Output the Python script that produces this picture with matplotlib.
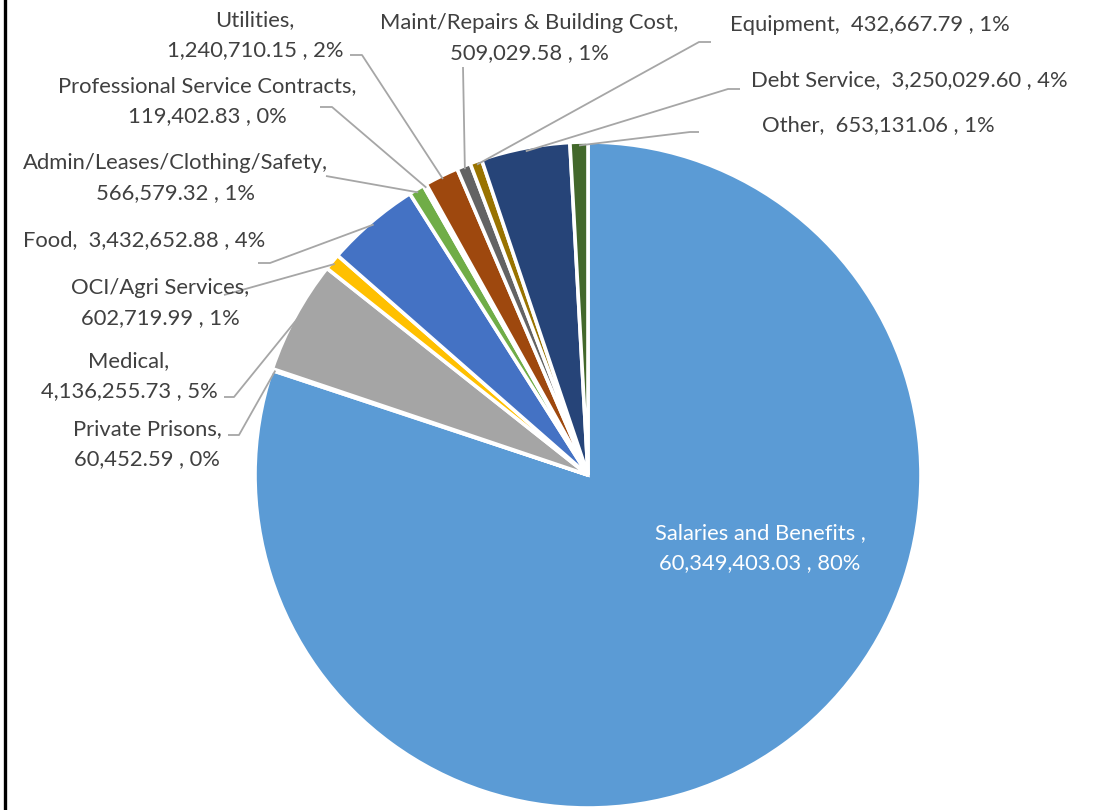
import numpy as np
import matplotlib.pyplot as plt

plt.rcParams['font.family'] = ['Lato', 'DejaVu Sans']

categories = ['Salaries and Benefits', 'Private Prisons', 'Medical', 'OCI/Agri Services',
              'Food', 'Admin/Leases/Clothing/Safety', 'Professional Service Contracts',
              'Utilities', 'Maint/Repairs & Building Cost', 'Equipment', 'Debt Service', 'Other']
amounts = [60349403.03, 60452.59, 4136255.73, 602719.99,
           3432652.88, 566579.32, 119402.83,
           1240710.15, 509029.58, 432667.79, 3250029.60, 653131.06]
pct_labels = ['80%', '0%', '5%', '1%', '4%', '1%', '0%', '2%', '1%', '1%', '4%', '1%']

colors = ['#5B9BD5', '#ED7D31', '#A5A5A5', '#FFC000', '#4472C4', '#70AD47',
          '#255E91', '#9E480E', '#636363', '#997300', '#264478', '#43682B']

W, H = 1115, 810
CX, CY, R = 588, 475, 333          # pie centre / radius in pixels


def px(x, y):
    # pixel position (from top-left) -> data units, pie radius = 1
    return (x - CX) / R, (CY - y) / R


# label layout: (lines, centre x, first-line y, leader start points in px)
layout = {
    'Salaries and Benefits': ('in', 760, 533, None),
    'Private Prisons': (2, 147, 429, [(228, 435), (239, 435)]),
    'Medical': (2, 129, 361, [(224, 397), (234, 397)]),
    'OCI/Agri Services': (2, 160, 288, [(224, 295)]),
    'Food': (1, 144, 240, [(258, 263), (270, 263)]),
    'Admin/Leases/Clothing/Safety': (2, 175, 163, [(326, 176)]),
    'Professional Service Contracts': (2, 207, 86, [(320, 107), (332, 107)]),
    'Utilities': (2, 255, 20, [(350, 55), (362, 55)]),
    'Maint/Repairs & Building Cost': (2, 529, 23, [(463, 67)]),
    'Equipment': (1, 870, 25, [(711, 42), (699, 42)]),
    'Debt Service': (1, 909, 80, [(740, 89), (728, 89)]),
    'Other': (1, 878, 125, [(699, 132), (690, 132)]),
}

fig = plt.figure(figsize=(W / 100, H / 100), dpi=100)
ax = fig.add_axes([0, 0, 1, 1])

wedges, _ = ax.pie(amounts, colors=colors, startangle=90, counterclock=False,
                   radius=1.0, center=(0, 0),
                   wedgeprops=dict(edgecolor='white', linewidth=2.6))

# pie() resets the limits, so set them afterwards
ax.set_xlim(-CX / R, (W - CX) / R)
ax.set_ylim(-(H - CY) / R, CY / R)
ax.set_aspect('equal')
ax.axis('off')

txt_color = '#404040'
fs = 15.8
for w, name, amt, pct in zip(wedges, categories, amounts, pct_labels):
    mode, x, y, pts = layout[name]
    val = f'{amt:,.2f}'
    if mode == 'in':
        ax.text(*px(x, y), f'{name} ,', ha='center', va='center', color='white', fontsize=fs)
        ax.text(*px(x, y + 30), f'{val} , {pct}', ha='center', va='center', color='white', fontsize=fs)
        continue
    if mode == 1:
        ax.text(*px(x, y), f'{name},  {val} , {pct}', ha='center', va='center',
                color=txt_color, fontsize=fs)
    else:
        ax.text(*px(x, y), f'{name},', ha='center', va='center', color=txt_color, fontsize=fs)
        ax.text(*px(x, y + 30), f'{val} , {pct}', ha='center', va='center',
                color=txt_color, fontsize=fs)
    # leader line to the outer edge of the wedge at its mid angle
    mid = np.deg2rad((w.theta1 + w.theta2) / 2)
    end = (0.99 * np.cos(mid), 0.99 * np.sin(mid))
    path = [px(*p) for p in pts] + [end]
    xs, ys = zip(*path)
    ax.plot(xs, ys, color='#A6A6A6', lw=1.3, solid_capstyle='butt')

# black rule down the left edge
fig.add_artist(plt.Line2D([4.5 / W, 4.5 / W], [0, 1], color='black', lw=2.4,
                          transform=fig.transFigure))

fig.savefig('out.png', dpi=100, facecolor='white')
